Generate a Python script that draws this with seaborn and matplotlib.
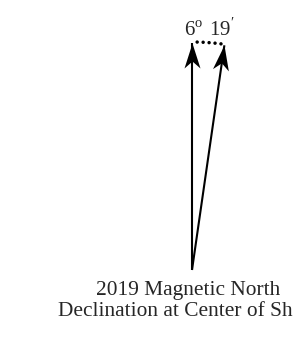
import numpy as np
import matplotlib
matplotlib.use('Agg')
import matplotlib.pyplot as plt
import seaborn as sns
from matplotlib.path import Path
from matplotlib.markers import MarkerStyle
from matplotlib.transforms import Affine2D

# Declination values shown on the diagram
year = 2019
decl_degrees = 6
decl_minutes = 19
drawn_angle = 8.2      # angle used on the drawing (exaggerated), degrees
arrow_length = 227     # in pixel units of the canvas
origin = (192, 270)

title_lines = [f'{year} Magnetic North', 'Declination at Center of Sheet']

sns.set_style('white')
plt.rcParams['font.family'] = ['Liberation Serif', 'DejaVu Serif']
plt.rcParams['mathtext.fontset'] = 'custom'
plt.rcParams['mathtext.rm'] = 'Liberation Serif'

fig = plt.figure(figsize=(2.93, 3.40), dpi=100)
ax = fig.add_axes([0, 0, 1, 1])
ax.set_xlim(0, 293)
ax.set_ylim(340, 0)
ax.axis('off')

# barbed arrow head, tip at the origin of the marker path
head = Path([(0, 0), (0.32, -1), (0, -0.72), (-0.32, -1), (0, 0)],
            [Path.MOVETO, Path.LINETO, Path.LINETO, Path.LINETO, Path.CLOSEPOLY])

# true north and magnetic north arrows
for ang in [0, drawn_angle]:
    a = np.radians(ang)
    tip_x = origin[0] + arrow_length * np.sin(a)
    tip_y = origin[1] - arrow_length * np.cos(a)
    ax.plot([origin[0], tip_x], [origin[1], tip_y], color='black', lw=1.5,
            solid_capstyle='butt')
    m = MarkerStyle(head, transform=Affine2D().rotate_deg(-ang))
    ax.plot([tip_x], [tip_y], marker=m, markersize=36, color='black',
            markeredgewidth=0)

# dotted arc between the tips
arc = np.radians(np.linspace(1.3, 7.3, 5))
dots_x = origin[0] + (arrow_length + 1) * np.sin(arc)
dots_y = origin[1] - (arrow_length + 1) * np.cos(arc)
sns.scatterplot(x=dots_x, y=dots_y, ax=ax, color='black', s=6, edgecolor='none')

ax.text(209, 29, r'$6^{\mathrm{o}}\ 19^{\prime}$', ha='center', va='center', fontsize=15)

ax.text(188, 291, title_lines[0], ha='center', va='center', fontsize=15.4)
ax.text(188, 312, title_lines[1], ha='center', va='center', fontsize=15.4)

fig.savefig('out.png', dpi=100)
